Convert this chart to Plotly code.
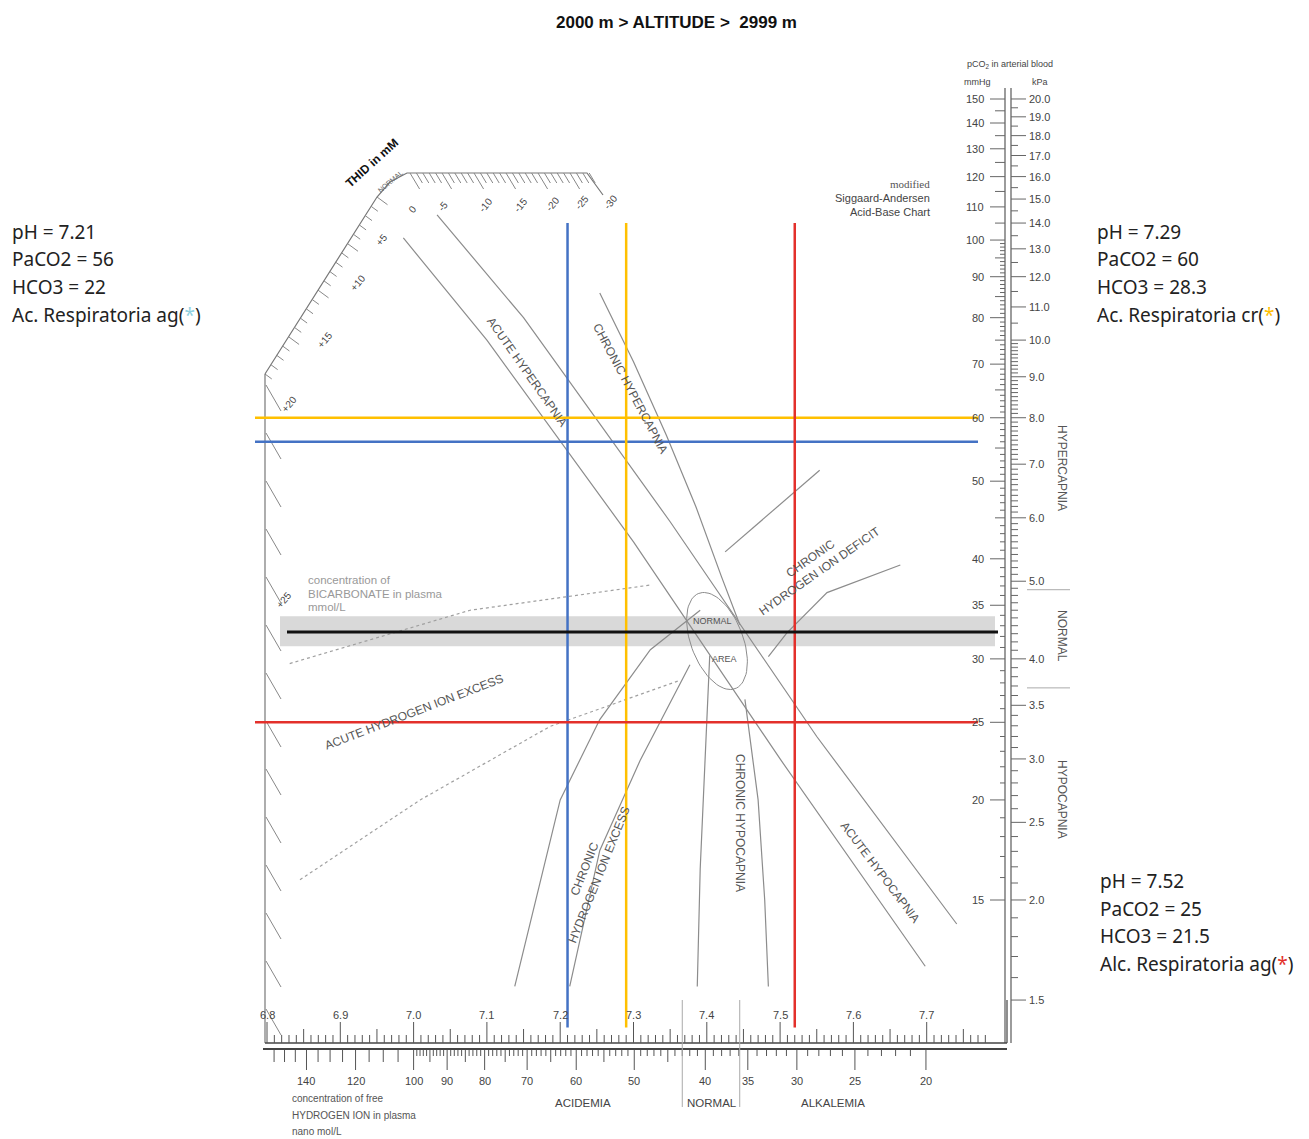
import numpy as np
import plotly.graph_objects as go

W, H = 1309, 1139
OFF = 8  # page offset of the plot div

# ---------------- data ----------------
case_ph = [7.21, 7.29, 7.52]
case_paco2 = [56, 60, 25]
case_hco3 = ["22", "28.3", "21.5"]
case_dx = ["Ac. Respiratoria ag", "Ac. Respiratoria cr", "Alc. Respiratoria ag"]

normal_paco2 = 32.4
normal_band_paco2 = [31.1, 33.9]

ph_ticks = [6.8, 6.9, 7.0, 7.1, 7.2, 7.3, 7.4, 7.5, 7.6, 7.7]
hion_ticks = [140, 120, 100, 90, 80, 70, 60, 50, 40, 35, 30, 25, 20]
hion_normal = [43.0, 35.9]
mmhg_ticks = [150, 140, 130, 120, 110, 100, 90, 80, 70, 60, 50, 40, 35, 30, 25, 20, 15]
kpa_ticks = [20.0, 19.0, 18.0, 17.0, 16.0, 15.0, 14.0, 13.0, 12.0, 11.0, 10.0,
             9.0, 8.0, 7.0, 6.0, 5.0, 4.0, 3.5, 3.0, 2.5, 2.0, 1.5]
capnia_limits = [36.6, 27.6]
thid_top_labels = ["0", "-5", "-10", "-15", "-20", "-25", "-30"]
thid_side_labels = ["+5", "+10", "+15", "+20", "+25"]

# nomogram curves (pH, pCO2 mmHg)
acute_a_ph = [6.986, 7.10, 7.30, 7.50, 7.698]
acute_a_pco2 = [100.6, 75.0, 42.0, 22.5, 12.4]
acute_b_ph = [7.032, 7.15, 7.35, 7.55, 7.741]
acute_b_pco2 = [107.5, 80.0, 44.5, 24.0, 14.0]
chr_hyper_ph = [7.254, 7.300, 7.345, 7.385, 7.420, 7.445]
chr_hyper_pco2 = [85.9, 70.5, 57.0, 46.5, 38.0, 33.1]
chr_def_a_ph = [7.425, 7.554]
chr_def_a_pco2 = [40.8, 51.6]
chr_def_b_ph = [7.484, 7.509, 7.564, 7.664]
chr_def_b_pco2 = [30.2, 32.3, 36.3, 39.3]
chr_hypo_a_ph = [7.404, 7.398, 7.391, 7.387]
chr_hypo_a_pco2 = [30.3, 22.4, 16.4, 11.7]
chr_hypo_b_ph = [7.452, 7.470, 7.479, 7.484]
chr_hypo_b_pco2 = [26.7, 20.0, 15.0, 11.7]
chr_exc_a_ph = [7.391, 7.323, 7.254, 7.200, 7.138]
chr_exc_a_pco2 = [34.5, 30.8, 25.2, 20.0, 11.7]
chr_exc_b_ph = [7.377, 7.309, 7.254, 7.213]
chr_exc_b_pco2 = [29.5, 22.4, 17.3, 11.7]
bic_a_ph = [6.831, 7.077, 7.323]
bic_a_pco2 = [29.6, 34.5, 37.1]
bic_b_ph = [6.845, 7.009, 7.186, 7.363]
bic_b_pco2 = [15.9, 20.0, 24.7, 28.2]

# ---------------- helpers (page-pixel <-> axis) ----------------
def xp(px):
    return 6.8 + (px - 267) / 733.0

def yp(py):
    return 10 ** (2.1761 - (py - 99) / 801.0)

def px_ph(v):
    return 267 + (v - 6.8) * 733.0

def py_co2(v):
    return 99 + (2.1761 - np.log10(v)) * 801.0

XR = [xp(OFF), xp(OFF + W)]
YR = [2.1761 - (OFF + H - 99) / 801.0, 2.1761 + (99 - OFF) / 801.0]

fig = go.Figure()

def lines(xs, ys, color="#8c8c8c", width=1.2, dash=None):
    fig.add_trace(go.Scatter(x=xs, y=ys, mode="lines", hoverinfo="skip", showlegend=False,
                             line=dict(color=color, width=width, dash=dash)))

def segs(seglist, color="#8c8c8c", width=1.0):
    xs, ys = [], []
    for (x0, y0, x1, y1) in seglist:
        xs += [x0, x1, None]
        ys += [y0, y1, None]
    lines(xs, ys, color, width)

def txt(x, y, s, size=9, color="#555", angle=0, xa="center", ya="middle",
        family="Liberation Sans", bold=False):
    if bold:
        s = "<b>" + s + "</b>"
    fig.add_annotation(x=(x - OFF) / W, y=1 - (y - OFF) / H, xref="paper", yref="paper", text=s,
                       showarrow=False, textangle=angle, xanchor=xa, yanchor=ya,
                       font=dict(size=size, color=color, family=family))

# ---------------- grey normal band + nomogram ----------------
fig.add_trace(go.Scatter(x=[xp(280), xp(995), xp(995), xp(280), xp(280)],
                         y=[normal_band_paco2[0], normal_band_paco2[0], normal_band_paco2[1],
                            normal_band_paco2[1], normal_band_paco2[0]],
                         fill="toself", fillcolor="#d9d9d9", line=dict(width=0),
                         mode="lines", hoverinfo="skip", showlegend=False))

g = "#8c8c8c"
lines(acute_a_ph, acute_a_pco2, g)
lines(acute_b_ph, acute_b_pco2, g)
lines(chr_hyper_ph, chr_hyper_pco2, g)
lines(chr_def_a_ph, chr_def_a_pco2, g)
lines(chr_def_b_ph, chr_def_b_pco2, g)
lines(chr_hypo_a_ph, chr_hypo_a_pco2, g)
lines(chr_hypo_b_ph, chr_hypo_b_pco2, g)
lines(chr_exc_a_ph, chr_exc_a_pco2, g)
lines(chr_exc_b_ph, chr_exc_b_pco2, g)
lines(bic_a_ph, bic_a_pco2, "#a0a0a0", 1.2, "dot")
lines(bic_b_ph, bic_b_pco2, "#a0a0a0", 1.2, "dot")

# normal-area ellipse
t = np.linspace(0, 2 * np.pi, 80)
cx, cy, rx, ry, rot = 717, 641, 26, 51, np.deg2rad(-21)
ex = cx + rx * np.cos(t) * np.cos(rot) - ry * np.sin(t) * np.sin(rot)
ey = cy + rx * np.cos(t) * np.sin(rot) + ry * np.sin(t) * np.cos(rot)
lines([xp(v) for v in ex], [yp(v) for v in ey], g, 1.0)

# THID scale (top-left)
thid_path_x = [265, 377, 390, 407, 587, 603]
thid_path_y = [374, 197, 182, 173, 173, 195]
lines([xp(v) for v in thid_path_x], [yp(v) for v in thid_path_y], "#777", 1.2)
tk = []
for i in range(29):
    x0 = 410 + i * 6.4
    L = 16 if i % 5 == 0 else 10
    tk.append((xp(x0), yp(173), xp(x0 + L * 0.6), yp(173 + L)))
for i in range(20):
    f = i / 19
    x0 = 377 + (265 - 377) * f
    y0 = 197 + (374 - 197) * f
    L = 14 if i % 5 == 0 else 9
    tk.append((xp(x0), yp(y0), xp(x0 + L * 0.75), yp(y0 + L * 0.55)))
for y0 in range(385, 1040, 48):
    tk.append((xp(266), yp(y0), xp(281), yp(y0 + 26)))
segs(tk, "#888", 1.0)
lines([xp(265), xp(265)], [yp(374), yp(1043)], "#777", 1.2)

for lab, (x, y) in zip(thid_top_labels, [(412, 209), (443, 207), (485, 205), (520, 205),
                                          (552, 204), (582, 203), (610, 202)]):
    txt(x, y, lab, 10, "#444", -50)
for lab, (x, y) in zip(thid_side_labels, [(382, 240), (357, 283), (324, 340), (289, 405), (283, 600)]):
    txt(x, y, lab, 10, "#444", -50)
txt(372, 163, "THID in mM", 12, "#111", -42, bold=True)
txt(390, 181, "NORMAL", 7, "#666", -40)

# ---------------- right pCO2 scale ----------------
sc = "#666"
lines([xp(1005), xp(1005)], [yp(88), yp(1043)], sc, 1.3)
lines([xp(1011), xp(1011)], [yp(88), yp(1043)], sc, 1.3)
tk = []
for v in range(15, 151):
    if v in mmhg_ticks:
        L = 15
    elif v % 5 == 0:
        L = 10
    elif v < 100:
        L = 5
    else:
        continue
    tk.append((xp(1005 - L), v, xp(1005), v))
k = 1.5
while k <= 20.01:
    kk = round(k, 1)
    if kk in kpa_ticks:
        L = 15
    elif (round(kk * 2, 3) % 1 == 0) or kk < 10:
        L = 7
    else:
        L = 0
    if L:
        m = kk * 7.50062
        tk.append((xp(1011), m, xp(1011 + L), m))
    k += 0.1
segs(tk, sc, 1.0)
for v in mmhg_ticks:
    txt(986, py_co2(v), str(v), 11, "#444", xa="right")
for v in kpa_ticks:
    txt(1027, py_co2(v * 7.50062), f"{v:.1f}", 11, "#444", xa="left")
txt(1010, 65, "pCO<sub>2</sub> in arterial blood", 9, "#444")
txt(977, 82, "mmHg", 9, "#444")
txt(1040, 82, "kPa", 9, "#444")
txt(1062, 468, "HYPERCAPNIA", 12, "#555", 90)
txt(1062, 636, "NORMAL", 12, "#555", 90)
txt(1062, 799, "HYPOCAPNIA", 12, "#555", 90)
segs([(xp(1027), v, xp(1070), v) for v in capnia_limits], "#aaa", 1.0)

# ---------------- bottom pH / H+ scales ----------------
lines([xp(265), xp(1007)], [yp(1043), yp(1043)], "#444", 1.5)
lines([xp(263), xp(1007)], [yp(1049), yp(1049)], "#444", 2.0)
lines([xp(1007), xp(1007)], [yp(1000), yp(1043)], "#444", 1.2)
tk = []
for i in range(0, 99):
    v = round(6.80 + i * 0.01, 2)
    L = 21 if i % 10 == 0 else (14 if i % 5 == 0 else 8)
    tk.append((v, yp(1043 - L), v, yp(1043)))
for h in range(20, 159):
    if h in hion_ticks:
        L = 20
    elif h % 5 == 0:
        L = 12
    elif h < 100:
        L = 6
    else:
        continue
    v = 9 - np.log10(h)
    tk.append((v, yp(1050), v, yp(1050 + L)))
segs(tk, "#555", 1.0)
for v in ph_ticks:
    txt(px_ph(v), 1015, f"{v:.1f}", 11, "#444")
for h in hion_ticks:
    txt(px_ph(9 - np.log10(h)), 1081, str(h), 11, "#444")
segs([(9 - np.log10(h), yp(1000), 9 - np.log10(h), yp(1107)) for h in hion_normal], "#aaa", 1.0)
txt(583, 1103, "ACIDEMIA", 11.5, "#444")
txt(712, 1103, "NORMAL", 11.5, "#444")
txt(833, 1103, "ALKALEMIA", 11.5, "#444")
txt(290, 1098, "concentration of free", 10, "#555", xa="left")
txt(290, 1115, "HYDROGEN ION in plasma", 10, "#555", xa="left")
txt(290, 1131, "nano mol/L", 10, "#555", xa="left")

# ---------------- nomogram text ----------------
tc = "#555"
txt(527, 372, "ACUTE HYPERCAPNIA", 12, tc, 55)
txt(630, 388, "CHRONIC HYPERCAPNIA", 12, tc, 62)
txt(815, 565, "CHRONIC<br>HYDROGEN ION DEFICIT", 12, tc, -35)
txt(712, 621, "NORMAL", 9, tc)
txt(724, 659, "AREA", 9, tc)
txt(414, 712, "ACUTE HYDROGEN ION EXCESS", 12, tc, -21)
txt(740, 823, "CHRONIC HYPOCAPNIA", 12, tc, 90)
txt(880, 872, "ACUTE HYPOCAPNIA", 12, tc, 53)
txt(592, 872, "CHRONIC<br>HYDROGEN ION EXCESS", 12, tc, -68)
txt(306, 580, "concentration of", 11.5, "#999", xa="left")
txt(306, 594, "BICARBONATE in plasma", 11.5, "#999", xa="left")
txt(306, 607, "mmol/L", 11.5, "#999", xa="left")
txt(932, 184, "modified", 11, "#555", xa="right", family="Liberation Serif")
txt(932, 198, "Siggaard-Andersen", 11, "#444", xa="right")
txt(932, 212, "Acid-Base Chart", 11, "#444", xa="right")

# ---------------- patient lines ----------------
case_colors = ["#4472c4", "#ffc000", "#e3302b"]
for phv, pc, col in zip(case_ph, case_paco2, case_colors):
    lines([phv, phv], [105, 10.4], col, 2.5)
    lines([xp(255), xp(978)], [pc, pc], col, 2.5)
lines([xp(287), xp(998)], [normal_paco2, normal_paco2], "#111", 3)

# ---------------- title & case boxes ----------------
txt(676, 22, "2000 m &gt; ALTITUDE &gt;&nbsp; 2999 m", 17, "#111", bold=True,
    family="Liberation Sans Narrow, Liberation Sans")
star_cols = ["#8fd0e0", "#ffc000", "#e3302b"]
boxes = [(10, 232), (1095, 232), (1098, 881)]
for i, (bx, by) in enumerate(boxes):
    rows = [f"pH = {case_ph[i]}", f"PaCO2 = {case_paco2[i]}", f"HCO3 = {case_hco3[i]}",
            f"{case_dx[i]}(<span style='color:{star_cols[i]}'>*</span>)"]
    for j, r in enumerate(rows):
        txt(bx, by + j * 27.5, r, 19, "#222", xa="left", family="Noto Sans")

fig.update_layout(
    width=W, height=H, margin=dict(l=0, r=0, t=0, b=0),
    paper_bgcolor="white", plot_bgcolor="white",
    xaxis=dict(range=XR, visible=False, fixedrange=True),
    yaxis=dict(type="log", range=YR, visible=False, fixedrange=True),
)
fig.write_html("out.html")
